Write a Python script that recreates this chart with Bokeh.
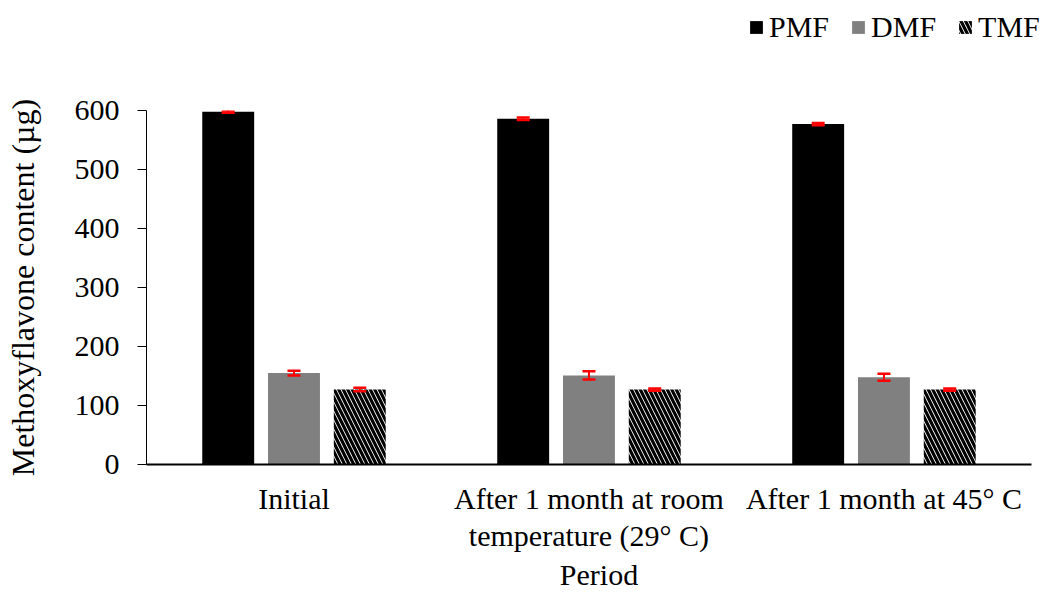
from bokeh.plotting import figure
from bokeh.layouts import column
from bokeh.models import (ColumnDataSource, Range1d, Whisker, TeeHead,
                          Legend, LegendItem, FixedTicker)
from bokeh.transform import dodge
from bokeh.embed import file_html
from bokeh.resources import INLINE

# Storage periods (categories) and their tick labels
periods = ["Initial", "After 1 month at room\ntemperature (29° C)", "After 1 month at 45° C"]

# Methoxyflavone content (µg) with standard deviations
pmf = [598, 586, 577]
pmf_sd = [2, 2, 2]
dmf = [155, 151, 148]
dmf_sd = [4, 7, 6]
tmf = [127, 127, 127]
tmf_sd = [3, 2, 2]

y_ticks = [0, 100, 200, 300, 400, 500, 600]

FONT = "Liberation Serif"
W = 1051
LEGEND_H = 60

pos = list(range(len(periods)))
src = ColumnDataSource(data=dict(
    pos=pos,
    pmf=pmf, pmf_lo=[v - e for v, e in zip(pmf, pmf_sd)], pmf_hi=[v + e for v, e in zip(pmf, pmf_sd)],
    dmf=dmf, dmf_lo=[v - e for v, e in zip(dmf, dmf_sd)], dmf_hi=[v + e for v, e in zip(dmf, dmf_sd)],
    tmf=tmf, tmf_lo=[v - e for v, e in zip(tmf, tmf_sd)], tmf_hi=[v + e for v, e in zip(tmf, tmf_sd)],
))

BAR_W = 0.176
OFF = 0.223
PMF_STYLE = dict(fill_color="black", line_color=None)
DMF_STYLE = dict(fill_color="#808080", line_color=None)
TMF_STYLE = dict(fill_color="white", line_color=None, hatch_pattern="\\",
                 hatch_color="black", hatch_weight=3.2, hatch_scale=9)

# x extent: the category axis spans the three groups; the frame runs a little
# further right so the legend strip above has room for its last entry
X_START, X_END = -0.5, len(periods) - 0.5
X_VIEW_END = X_END + 0.068


def add_bars(fig):
    r1 = fig.vbar(x=dodge("pos", -OFF), top="pmf", width=BAR_W, source=src, **PMF_STYLE)
    r2 = fig.vbar(x=dodge("pos", 0), top="dmf", width=BAR_W, source=src, **DMF_STYLE)
    r3 = fig.vbar(x=dodge("pos", OFF), top="tmf", width=BAR_W, source=src, **TMF_STYLE)
    return r1, r2, r3


# ---- main chart ----
p = figure(
    width=W, height=594 - LEGEND_H,
    x_range=Range1d(X_START, X_VIEW_END),
    y_range=Range1d(0, 600),
    output_backend="svg", toolbar_location=None,
    min_border_left=146, min_border_right=0,
    min_border_top=110 - LEGEND_H, min_border_bottom=130,
    background_fill_color="white", border_fill_color="white",
)
p.outline_line_color = None
p.xgrid.visible = False
p.ygrid.visible = False

add_bars(p)

for key, off in (("pmf", -OFF), ("dmf", 0), ("tmf", OFF)):
    p.add_layout(Whisker(
        source=src, base=dodge("pos", off),
        lower=key + "_lo", upper=key + "_hi",
        line_color="red", line_width=2, level="overlay",
        upper_head=TeeHead(size=13, line_color="red", line_width=2.5),
        lower_head=TeeHead(size=13, line_color="red", line_width=2.5)))

yax = p.yaxis[0]
yax.ticker = y_ticks
yax.axis_label = "Methoxyflavone content (µg)"
yax.axis_label_text_font = FONT
yax.axis_label_text_font_size = "32px"
yax.axis_label_text_font_style = "normal"
yax.axis_label_text_color = "black"
yax.axis_label_standoff = 31
yax.major_label_text_font = FONT
yax.major_label_text_font_size = "30px"
yax.major_label_text_color = "black"
yax.major_label_standoff = 18
yax.major_tick_out = 9
yax.major_tick_in = 0
yax.major_tick_line_color = "black"
yax.minor_tick_line_color = None
yax.axis_line_color = "black"
yax.axis_line_width = 1

xax = p.xaxis[0]
xax.bounds = (X_START, X_END)
xax.ticker = FixedTicker(ticks=pos)
xax.major_label_overrides = {i: name for i, name in zip(pos, periods)}
xax.major_label_text_font = FONT
xax.major_label_text_font_size = "30px"
xax.major_label_text_color = "black"
xax.major_label_text_line_height = 1.15
xax.major_label_standoff = 17
xax.major_tick_line_color = None
xax.minor_tick_line_color = None
xax.major_tick_out = 0
xax.major_tick_in = 0
xax.axis_line_color = "black"
xax.axis_line_width = 2
xax.axis_label = "Period"
xax.axis_label_text_font = FONT
xax.axis_label_text_font_size = "30px"
xax.axis_label_text_font_style = "normal"
xax.axis_label_text_color = "black"
xax.axis_label_standoff = 3

# ---- legend strip above the chart (same series, value range kept above the bars) ----
lg = figure(
    width=W, height=LEGEND_H,
    x_range=Range1d(X_START, X_VIEW_END), y_range=Range1d(5000, 5001),
    output_backend="svg", toolbar_location=None,
    min_border=0, background_fill_color="white", border_fill_color="white",
)
lg.axis.visible = False
lg.grid.visible = False
lg.outline_line_color = None
k_pmf, k_dmf, k_tmf = add_bars(lg)

legend = Legend(
    items=[LegendItem(label="PMF", renderers=[k_pmf]),
           LegendItem(label="DMF", renderers=[k_dmf]),
           LegendItem(label="TMF", renderers=[k_tmf])],
    orientation="horizontal",
    location=(602, 16),
    glyph_width=16, glyph_height=16,
    label_standoff=5, spacing=21, padding=0, margin=0,
    label_text_font=FONT, label_text_font_size="30px", label_text_color="black",
    border_line_color=None, background_fill_alpha=0,
)
lg.add_layout(legend, "center")

open("out.html", "w").write(file_html(column(lg, p, spacing=0), INLINE))
